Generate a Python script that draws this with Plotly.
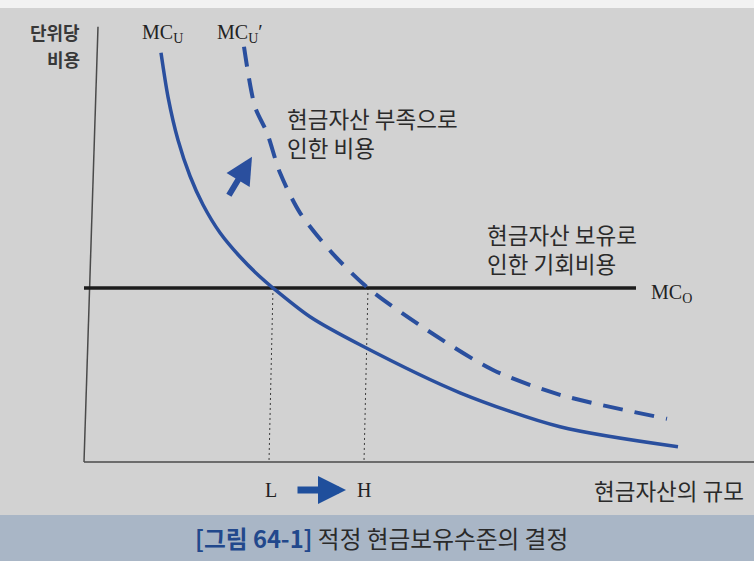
import plotly.graph_objects as go

# --- values (x: 현금자산의 규모, y: 단위당 비용) ---
mcu_x = [1.54, 1.68, 1.88, 2.12, 2.38, 2.72, 3.12, 3.52, 3.78, 4.52, 5.52, 7.52, 9.52, 11.88]
mcu_y = [10.23, 9.13, 8.05, 7.15, 6.43, 5.73, 5.13, 4.63, 4.35, 3.63, 2.93, 1.73, 0.88, 0.38]

mcu2_x = [3.20, 3.42, 3.66, 3.92, 4.32, 4.96, 5.68, 6.86, 8.18, 9.52, 11.66]
mcu2_y = [10.38, 8.88, 8.23, 7.23, 6.23, 5.23, 4.35, 3.30, 2.30, 1.68, 1.08]

mco_level = 4.35
mco_x = [0.0, 11.04]

level_L = 3.78
level_H = 5.68

x_range = [-1.68, 13.4]
y_range = [-2.475, 11.55]

BLUE = "#2a4f9e"
INK = "#1c1c1c"
GREY_LINE = "#4a4a4a"
SERIF = "Liberation Serif, Times New Roman, serif"
KR = "Noto Sans CJK KR, Noto Sans, sans-serif"

fig = go.Figure()

# axes drawn as lines
fig.add_trace(go.Scatter(x=[0.0, 0.28], y=[0.0, 10.88], mode="lines",
                         line=dict(color=GREY_LINE, width=1.5), hoverinfo="skip"))
fig.add_trace(go.Scatter(x=[0.0, x_range[1]], y=[0.0, 0.0], mode="lines",
                         line=dict(color=GREY_LINE, width=1.5), hoverinfo="skip"))

# L and H guide lines
for lv in (level_L, level_H):
    fig.add_trace(go.Scatter(x=[lv, lv - 0.08], y=[mco_level, 0.0], mode="lines",
                             line=dict(color="#3a3a3a", width=1, dash="2px,3px"),
                             hoverinfo="skip"))

# MC_O
fig.add_trace(go.Scatter(x=mco_x, y=[mco_level, mco_level], mode="lines",
                         line=dict(color=INK, width=3.5), hoverinfo="skip"))

# MC_U and MC_U'
fig.add_trace(go.Scatter(x=mcu_x, y=mcu_y, mode="lines", line_shape="spline",
                         line=dict(color=BLUE, width=3.5, smoothing=0.8),
                         hoverinfo="skip"))
fig.add_trace(go.Scatter(x=mcu2_x, y=mcu2_y, mode="lines", line_shape="spline",
                         line=dict(color=BLUE, width=4, dash="20px,12px", smoothing=0.8),
                         hoverinfo="skip"))

# shift arrows
fig.add_annotation(x=3.36, y=7.63, ax=2.88, ay=6.63, xref="x", yref="y",
                   axref="x", ayref="y", text="", showarrow=True,
                   arrowhead=2, arrowsize=0.9, arrowwidth=6, arrowcolor=BLUE)
fig.add_annotation(x=5.24, y=-0.7, ax=4.24, ay=-0.7, xref="x", yref="y",
                   axref="x", ayref="y", text="", showarrow=True,
                   arrowhead=2, arrowsize=0.8, arrowwidth=7, arrowcolor="#1f4f9c")

def label(text, x, y, size, family, xanchor="center", color="#2a2a2a"):
    fig.add_annotation(x=x, y=y, xref="x", yref="y", text=text, showarrow=False,
                       xanchor=xanchor, yanchor="middle", align=xanchor if xanchor != "center" else "center",
                       font=dict(family=family, size=size, color=color))

label("<b>단위당</b>", -0.04, 10.74, 18, KR, "right", color="#383838")
label("<b>비용</b>", -0.04, 10.08, 18, KR, "right", color="#383838")
label("MC<sub>U</sub>", 1.56, 10.72, 20, SERIF, color="#222")
label("MC<sub>U</sub>′", 3.12, 10.72, 20, SERIF, color="#222")
label("MC<sub>O</sub>", 11.30, 4.22, 20, SERIF, "left", color="#222")

label("현금자산 부족으로<br>인한 비용", 4.02, 8.23, 22.5, KR, "left")
label("현금자산 보유로<br>인한 기회비용", 8.02, 5.33, 22.5, KR, "left")

label("L", 3.74, -0.70, 20, SERIF, color="#222")
label("H", 5.60, -0.70, 20, SERIF, color="#222")
label("현금자산의 규모", 13.24, -0.70, 22.5, KR, "right")

# caption
fig.add_annotation(x=193 / 754, y=(561 - 538) / 561, xref="paper", yref="paper",
                   text="<b><span style='color:#22488c'>[그림 64-1]</span></b> 적정 현금보유수준의 결정",
                   showarrow=False, xanchor="left", yanchor="middle",
                   font=dict(family=KR, size=23.7, color="#2a2a2a"))

fig.update_layout(
    width=754, height=561,
    margin=dict(l=0, r=0, t=0, b=0),
    paper_bgcolor="#d2d2d2",
    plot_bgcolor="rgba(0,0,0,0)",
    showlegend=False,
    xaxis=dict(range=x_range, visible=False, fixedrange=True),
    yaxis=dict(range=y_range, visible=False, fixedrange=True),
    shapes=[
        dict(type="rect", xref="paper", yref="paper", x0=0, x1=1,
             y0=0, y1=(561 - 515) / 561, fillcolor="#a9b6c6",
             line=dict(width=0), layer="below"),
        dict(type="rect", xref="paper", yref="paper", x0=0, x1=1,
             y0=(561 - 8) / 561, y1=1, fillcolor="#f2f2f2",
             line=dict(width=0), layer="below"),
    ],
)

fig.write_html("out.html")
